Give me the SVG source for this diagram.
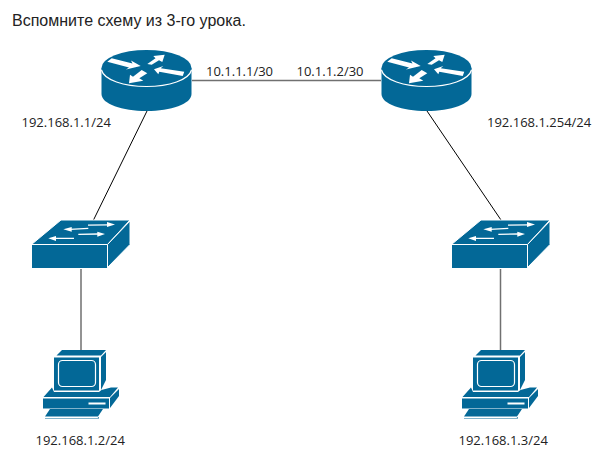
<svg xmlns="http://www.w3.org/2000/svg" width="608" height="466" viewBox="0 0 608 466">
<style>
.b{fill:#036897}
.w{fill:#fff}
.s{stroke:#fff;stroke-width:1;fill:#036897}
.t{font:13px "Open Sans","Noto Sans",sans-serif;fill:#222}
.h{font:16px "Liberation Sans",Arial,sans-serif;fill:#222}
.l{stroke:#000;stroke-width:1;fill:none}
.g{stroke:#707070;stroke-width:1.5;fill:none}
</style>
<defs>
<g id="router">
<path class="b" d="M101.500 68V94C101.500 104 122 111 146.500 111S191.500 104 191.500 94V68Z"/>
<ellipse class="b" cx="146.500" cy="68" rx="45" ry="18"/>
<path d="M101.500 70C104 80 124 86.500 146.500 86.500S189 80 191.500 70" fill="none" stroke="#fff" stroke-width="1.200"/>
<path class="w" d="M107.300 61.700L111.700 58.300L132.500 63.500L131 60.500L140.700 66L126 69.500L129 67.500Z"/>
<path class="w" d="M164.700 54.700L153.300 56L155.500 58.300L147.300 64L151.700 64.700L159 60.300L162.300 62Z"/>
<path class="w" d="M129 83.300L130 74.700L133 76.700L141.700 70L147.300 73.300L139.300 78.300L143.300 80.700Z"/>
<path class="w" d="M154 69.300L163.300 66L160.700 68.300L184.300 71.700L182.700 76L159.300 71.700L158.300 74.300Z"/>
</g>
<g id="switch">
<path class="s" d="M31.500 244.500L61 220H130L107.500 244.500Z"/>
<rect class="s" x="31.500" y="244.500" width="76" height="24"/>
<path class="s" d="M107.500 244.500L130 221V244.500L107.500 267.500Z"/>
<path d="M88 225.200L108 224.800M70 229.300L88.300 228.400M78.300 234.300L98 234M55 238.400H74" stroke="#fff" stroke-width="1.300" fill="none"/>
<path class="w" d="M107 222L115 224.500L107 227ZM71.700 227L63.300 229.300L71.700 231.700ZM97.300 231.700L105 234L97.300 236.700ZM56 236L48.300 238.300L56 241Z"/>
</g>
<g id="pc">
<path class="b" d="M56.500 355.500L62 350H106L101 355.500Z"/>
<rect class="b" x="54" y="357.500" width="45" height="33"/>
<path class="b" d="M101 357L106 352V380L101 390Z"/>
<rect x="58.500" y="360.500" width="37" height="26" rx="4" fill="none" stroke="#fff" stroke-width="1.200"/>
<path class="b" d="M43.500 397L52 387.500L54 392H99L101.500 390L111 387.500H118L110 397Z"/>
<rect class="b" x="43" y="398.500" width="66" height="10"/>
<path class="b" d="M110 398L119 389V396L110 408Z"/>
<rect class="w" x="88.500" y="402.500" width="17" height="2"/>
<path class="b" d="M45 416.500L50 409H103L98 416.500Z"/>
<path class="b" d="M45 418H97.500L99 417V418.500H45Z"/>
</g>
</defs>
<g id="connectors">
<path class="g" d="M192 80.500H381"/>
<path class="l" d="M147 111L93 221M427 111L501 220"/>
<path class="g" d="M81 268V350M500.500 268V350"/>
</g>
<g id="router1"><use href="#router"/></g>
<g id="router2"><use href="#router" x="280"/></g>
<g id="switch1"><use href="#switch"/></g>
<g id="switch2"><use href="#switch" x="420"/></g>
<g id="pc1"><use href="#pc"/></g>
<g id="pc2"><use href="#pc" x="419"/></g>
<g id="labels">
<text class="h" x="12" y="26">Вспомните схему из 3-го урока.</text>
<text class="t" x="21.500" y="127">192.168.1.1/24</text>
<text class="t" x="206" y="76">10.1.1.1/30</text>
<text class="t" x="296.500" y="76">10.1.1.2/30</text>
<text class="t" x="487" y="127">192.168.1.254/24</text>
<text class="t" x="35.500" y="445">192.168.1.2/24</text>
<text class="t" x="458.500" y="445">192.168.1.3/24</text>
</g>
</svg>
